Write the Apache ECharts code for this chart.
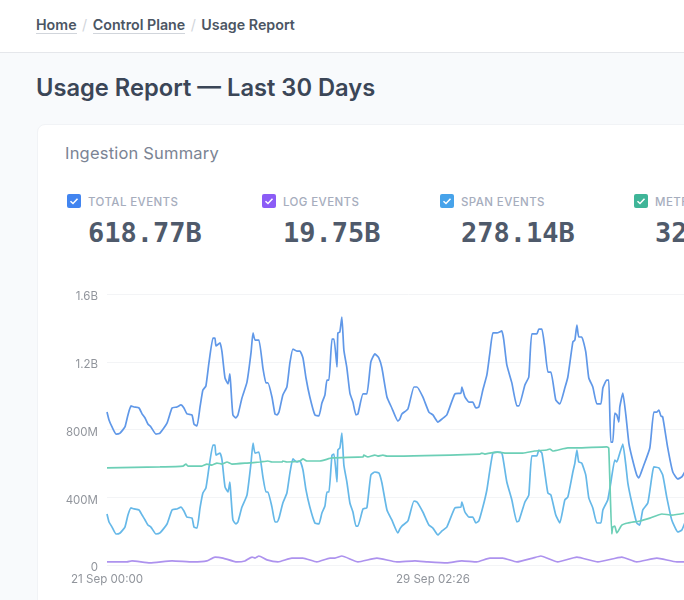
<!DOCTYPE html>
<html lang="en">

<head>
    <meta charset="UTF-8">
    <title>Usage Report</title>
    <style>
        html,
        body {
            margin: 0;
            padding: 0;
            width: 684px;
            height: 600px;
            overflow: hidden;
            background: #f8fafc;
            font-family: Inter, "Noto Sans", sans-serif;
        }

        .crumbs {
            position: absolute;
            left: 0;
            top: 0;
            width: 684px;
            height: 53px;
            box-sizing: border-box;
            background: #fff;
            border-bottom: 1px solid #e5e7eb;
            padding: 16px 0 0 36px;
            font-size: 14.25px;
            font-weight: 600;
            line-height: 18px;
            color: #4b5563;
            white-space: nowrap;
        }

        .crumbs a {
            border-bottom: 1px solid #d1d5db;
        }

        .crumbs i {
            font-style: normal;
            font-weight: 400;
            color: #d1d5db;
            margin: 0 5.5px;
        }

        h1 {
            position: absolute;
            left: 36px;
            top: 72px;
            margin: 0;
            font-size: 23.7px;
            line-height: 32px;
            font-weight: 600;
            color: #3b4657;
            white-space: nowrap;
        }

        .card {
            position: absolute;
            left: 37px;
            top: 124px;
            width: 1300px;
            height: 600px;
            background: #fff;
            border: 1px solid #f1f3f6;
            border-radius: 8px;
        }

        h2 {
            position: absolute;
            left: 65px;
            top: 143px;
            margin: 0;
            font-size: 16.5px;
            line-height: 20px;
            letter-spacing: 0.2px;
            font-weight: 400;
            color: #7b8494;
        }

        .stat {
            position: absolute;
            top: 194px;
            white-space: nowrap;
        }

        .box {
            position: absolute;
            left: 0;
            top: 0;
            width: 14px;
            height: 14px;
            border-radius: 2px;
        }

        .box svg {
            display: block;
        }

        .name {
            position: absolute;
            left: 21px;
            top: 1px;
            font-size: 11.5px;
            letter-spacing: 0.4px;
            line-height: 14px;
            font-weight: 500;
            color: #a6adbd;
        }

        .num {
            position: absolute;
            left: 21px;
            top: 22px;
            font-family: "DejaVu Sans Mono", monospace;
            font-size: 27px;
            line-height: 34px;
            font-weight: 600;
            color: #4f5a6b;
        }

        #show {
            position: absolute;
            left: 0;
            top: 270px;
            width: 1340px;
            height: 330px;
        }
    </style>
</head>

<body>
    <div class="crumbs"><a>Home</a><i>/</i><a>Control Plane</a><i>/</i>Usage Report</div>
    <h1>Usage Report — Last 30 Days</h1>
    <div class="card"></div>
    <h2>Ingestion Summary</h2>
    <div id="stats"></div>
    <div id="show"></div>

    <script src="https://cdn.jsdelivr.net/npm/echarts@6/dist/echarts.min.js"></script>
    <script>
        // [hours since 21 Sep 00:00, events in millions]
        var totalEvents = [[0, 903], [1.2, 856], [3, 815], [5.4, 773], [7.8, 779], [10.7, 815], [12.5, 886], [14.3, 939], [16.1, 933], [19.1, 927], [20.9, 892], [22.7, 868], [24.4, 832], [26.2, 815], [29.2, 773], [31.6, 779], [35.8, 838], [38.8, 927], [41.7, 933], [44.1, 945], [45.9, 927], [47.7, 892], [50.7, 886], [51.9, 832], [53.7, 821], [55.5, 933], [57.2, 1033], [59, 1057], [60.8, 1193], [63.2, 1340], [64.4, 1340], [65, 1293], [67.4, 1311], [68.6, 1258], [70.4, 1104], [72.2, 1069], [73.3, 1128], [73.9, 1051], [75.1, 886], [76.9, 868], [78.1, 886], [80.5, 986], [83.5, 1080], [85.9, 1252], [87.1, 1370], [88.3, 1328], [90.6, 1328], [93, 1163], [94.8, 1075], [96, 1075], [98.4, 992], [100.2, 892], [101.4, 886], [102.6, 903], [104.9, 1004], [107.3, 1051], [109.1, 1193], [110.9, 1275], [113.3, 1263], [115.1, 1263], [116.9, 1222], [118.7, 1104], [121, 992], [124, 886], [126.4, 880], [128.2, 956], [130, 1004], [131.2, 1092], [132.4, 1092], [134.2, 1334], [135.4, 1334], [137.2, 1169], [137.7, 1370], [138.9, 1376], [140.1, 1464], [141.3, 1269], [143.1, 1163], [144.9, 1015], [146.7, 962], [148.5, 886], [149.7, 892], [152.7, 1010], [155, 1010], [157.4, 1199], [159.8, 1246], [162.2, 1222], [164, 1163], [167, 992], [169.9, 927], [173.5, 850], [174.7, 862], [175.9, 892], [179.5, 921], [183.1, 1051], [184.9, 1051], [188.4, 992], [192, 903], [194.4, 886], [197.4, 844], [199.8, 862], [202.7, 886], [207.5, 1010], [211.1, 1015], [211.7, 1051], [213.5, 992], [215.9, 962], [218.2, 962], [220, 927], [221.8, 933], [224.2, 1033], [226.6, 1122], [228.4, 1252], [230.2, 1370], [232.6, 1370], [235.5, 1382], [236.7, 1328], [238.5, 1181], [241.5, 1075], [244.5, 939], [245.7, 939], [249.3, 1063], [251.6, 1110], [253.4, 1364], [256.4, 1364], [257.6, 1393], [259.4, 1393], [261.2, 1281], [263, 1139], [264.8, 1139], [267.7, 974], [270.1, 951], [273.1, 1045], [274.9, 1110], [277.9, 1317], [279.1, 1328], [280.3, 1417], [281.4, 1346], [283.2, 1346], [285.6, 1258], [287.4, 1104], [289.8, 1051], [292.2, 951], [294.6, 951], [295.8, 1045], [298.1, 1092], [299.3, 1092], [300.5, 726], [301.7, 726], [302.9, 897], [304.1, 886], [305.3, 844], [305.9, 933], [307.7, 1015], [309.5, 886], [311.3, 720], [313.1, 638], [316, 531], [317.2, 514], [319.6, 573], [323.8, 691], [326.2, 903], [328, 903], [329.2, 915], [330.4, 880], [331.5, 874], [334.5, 691], [337.5, 549], [340.5, 508], [342.9, 520], [345.3, 561]];

        var spanEvents = [[0, 301], [1.2, 254], [3, 224], [5.4, 183], [7.8, 189], [10.7, 224], [12.5, 295], [14.3, 337], [16.1, 331], [19.1, 325], [20.9, 295], [22.7, 266], [24.4, 236], [26.2, 224], [29.2, 183], [31.6, 189], [35.8, 242], [38.8, 325], [41.7, 331], [44.1, 342], [45.9, 319], [47.7, 283], [50.7, 277], [51.9, 224], [53.7, 218], [55.5, 337], [57.2, 425], [59, 455], [60.8, 573], [63.2, 708], [64.4, 708], [65, 649], [67.4, 661], [68.6, 620], [70.4, 461], [72.2, 431], [73.3, 490], [73.9, 413], [75.1, 266], [76.9, 242], [78.1, 254], [80.5, 342], [83.5, 413], [85.9, 602], [87.1, 720], [88.3, 661], [90.6, 667], [93, 520], [94.8, 431], [96, 431], [98.4, 342], [100.2, 254], [101.4, 254], [102.6, 277], [104.9, 366], [107.3, 425], [109.1, 543], [110.9, 626], [113.3, 608], [115.1, 614], [116.9, 561], [118.7, 443], [121, 342], [124, 248], [126.4, 242], [128.2, 307], [130, 348], [131.2, 431], [132.4, 431], [134.2, 649], [135.4, 655], [137.2, 490], [137.7, 679], [138.9, 691], [140.1, 779], [141.3, 590], [143.1, 490], [144.9, 366], [146.7, 313], [148.5, 230], [149.7, 230], [152.7, 331], [155, 337], [157.4, 531], [159.8, 549], [162.2, 543], [164, 484], [167, 325], [169.9, 266], [173.5, 189], [174.7, 213], [175.9, 230], [179.5, 260], [183.1, 378], [184.9, 372], [188.4, 313], [192, 236], [194.4, 218], [197.4, 177], [199.8, 201], [202.7, 224], [207.5, 337], [211.1, 342], [211.7, 372], [213.5, 313], [215.9, 283], [218.2, 283], [220, 248], [221.8, 260], [224.2, 342], [226.6, 443], [228.4, 561], [230.2, 661], [232.6, 667], [235.5, 661], [236.7, 602], [238.5, 490], [241.5, 384], [244.5, 254], [245.7, 260], [249.3, 372], [251.6, 413], [253.4, 644], [256.4, 644], [257.6, 679], [259.4, 661], [261.2, 543], [263, 425], [264.8, 413], [267.7, 295], [270.1, 248], [273.1, 384], [274.9, 401], [277.9, 549], [279.1, 602], [280.3, 679], [281.4, 608], [283.2, 602], [285.6, 531], [287.4, 396], [289.8, 337], [292.2, 248], [294.6, 248], [295.8, 325], [298.7, 384], [300.5, 484], [302.9, 620], [304.1, 608], [305.9, 661], [307.7, 714], [309.5, 590], [310.7, 484], [313.1, 366], [316, 248], [317.8, 236], [319.6, 325], [322.6, 366], [325, 520], [326.2, 579], [329.2, 573], [331.5, 531], [333.9, 401], [336.9, 266], [340.5, 195], [342.9, 207], [345.3, 266]];

        var metricEvents = [[0, 573], [31.6, 579], [45.3, 584], [47.1, 596], [48.3, 584], [56.6, 584], [59.6, 596], [62.6, 590], [65.6, 602], [68.6, 596], [71.6, 608], [74.5, 596], [83.5, 602], [91.2, 608], [96, 614], [98.4, 608], [104.4, 608], [104.9, 614], [107.3, 608], [115.1, 614], [116.9, 626], [119.3, 614], [127, 614], [134.2, 632], [152.7, 638], [153.2, 649], [155.6, 638], [159.8, 649], [161.6, 643], [164.6, 649], [167, 643], [222.4, 655], [223.6, 661], [225.4, 655], [228.4, 661], [233.2, 667], [237.3, 661], [248.1, 661], [255.2, 673], [262.4, 679], [264.2, 685], [265.9, 673], [274.9, 691], [280.3, 691], [298.1, 697], [299.3, 691], [301.1, 183], [301.7, 224], [302.9, 230], [304.1, 189], [307.1, 236], [310.7, 248], [317.8, 260], [323.8, 277], [331, 301], [336.9, 295], [345.3, 307]];

        var logEvents = [[0, 18], [11.9, 18], [14.9, 24], [25.6, 12], [38.8, 24], [51.3, 18], [59.6, 24], [64.4, 47], [69.2, 41], [77.5, 18], [82.3, 24], [86.5, 47], [88.3, 41], [90.6, 53], [95.4, 30], [102, 18], [110.3, 41], [116.9, 41], [125.2, 18], [133, 41], [136, 41], [140.1, 53], [149.7, 18], [161, 41], [172.9, 18], [183.7, 24], [191.4, 18], [202.7, 12], [211.7, 24], [220.6, 18], [228.4, 41], [236.1, 41], [244.5, 18], [254, 41], [258.8, 53], [268.9, 18], [280.3, 47], [292.8, 18], [307.1, 47], [316, 18], [328, 41], [339.9, 18], [345.3, 18]];

        var xTickHours = [0, 194.43, 388.87, 583.3];
        var xTickLabels = ['21 Sep 00:00', '29 Sep 02:26', '7 Oct 04:52', '15 Oct 07:18'];

        var statNames = ['TOTAL EVENTS', 'LOG EVENTS', 'SPAN EVENTS', 'METRIC EVENTS'];
        var statValues = ['618.77B', '19.75B', '278.14B', '320.88B'];
        var statLefts = [67, 262, 440, 634];
        var statColors = ['#4285f0', '#8b5cf6', '#47a3ea', '#3fb598'];

        var lineColors = { total: '#6098e8', log: '#ad92ee', span: '#66b8e8', metric: '#6ccfb6' };

        document.getElementById('stats').innerHTML = statNames.map(function (name, i) {
            return '<div class="stat" style="left:' + statLefts[i] + 'px">' +
                '<span class="box" style="background:' + statColors[i] + '"><svg width="14" height="14" viewBox="0 0 14 14">' +
                '<path d="M3.5 7.2 6 9.5 10.5 4.8" fill="none" stroke="#fff" stroke-width="1.5"/></svg></span>' +
                '<span class="name">' + name + '</span><span class="num">' + statValues[i] + '</span></div>';
        }).join('');

        function makeSeries(name, data, color) {
            return {
                name: name,
                type: 'line',
                data: data,
                showSymbol: false,
                smooth: 0.15,
                lineStyle: { width: 1.7, color: color },
                itemStyle: { color: color }
            };
        }

        var myChart = echarts.init(document.getElementById('show'));
        myChart.setOption({
            animation: false,
            grid: { left: 107, right: 26, top: 24, height: 271 },
            xAxis: {
                type: 'value',
                min: 0,
                max: 720,
                splitLine: { show: false },
                axisLine: { show: false },
                axisTick: { show: false },
                axisLabel: {
                    customValues: xTickHours,
                    formatter: function (v) {
                        return xTickLabels[xTickHours.indexOf(v)];
                    },
                    color: '#91959c',
                    fontFamily: 'Inter',
                    fontSize: 11.6,
                    margin: 9
                }
            },
            yAxis: {
                type: 'value',
                min: 0,
                max: 1600,
                interval: 400,
                axisLine: { show: false },
                axisTick: { show: false },
                splitLine: { lineStyle: { color: '#f3f4f6', width: 1 } },
                axisLabel: {
                    formatter: function (v) {
                        return v === 0 ? '0' : v >= 1000 ? (v / 1000).toFixed(1) + 'B' : v + 'M';
                    },
                    color: '#91959c',
                    fontFamily: 'Inter',
                    fontSize: 11.5,
                    margin: 9,
                    verticalAlign: 'top',
                    lineHeight: 6
                }
            },
            series: [
                makeSeries('Total Events', totalEvents, lineColors.total),
                makeSeries('Log Events', logEvents, lineColors.log),
                makeSeries('Span Events', spanEvents, lineColors.span),
                makeSeries('Metric Events', metricEvents, lineColors.metric)
            ]
        });
    </script>
</body>

</html>
